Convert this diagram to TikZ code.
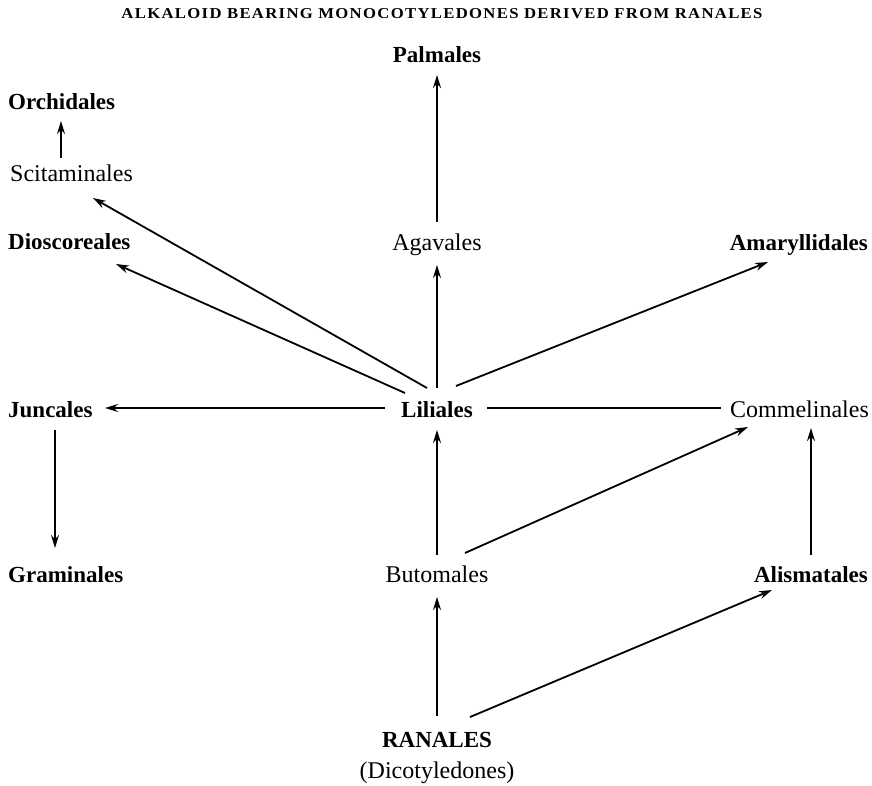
\documentclass[tikz,border=0pt]{standalone}
\usepackage{fontspec}
\setmainfont{Liberation Serif}
\newfontfamily\titlefont[LetterSpace=8]{Liberation Serif}
\usetikzlibrary{arrows.meta}
\begin{document}
\begin{tikzpicture}[x=1pt,y=-1pt,
  lab/.style={inner sep=0pt,text height=15pt,text depth=0pt,font=\fontsize{24}{27}\selectfont},
  blab/.style={inner sep=0pt,text height=15pt,text depth=0pt,font=\fontsize{23}{27}\selectfont\bfseries},
  arr/.style={line width=1.8pt,-{Stealth[length=13pt,width=8pt]}},
  plain/.style={line width=1.8pt}]
\useasboundingbox (0,0) rectangle (872,786);
\node[inner sep=0pt] (title) at (442,14) {\resizebox{641pt}{10pt}{\titlefont\bfseries ALKALOID BEARING MONOCOTYLEDONES DERIVED FROM RANALES}};
\node[blab] (pal) at (437,55) {Palmales};
\node[blab,anchor=west] (orc) at (8,102) {Orchidales};
\node[lab,anchor=west] (sci) at (10,174) {Scitaminales};
\node[blab,anchor=west] (dio) at (8,242) {Dioscoreales};
\node[lab] (aga) at (437,243) {Agavales};
\node[blab,anchor=east] (ama) at (868,243) {Amaryllidales};
\node[blab,anchor=west] (jun) at (8,410) {Juncales};
\node[blab] (lil) at (437,410) {Liliales};
\node[lab,anchor=east] (com) at (869,410) {Commelinales};
\node[blab,anchor=west] (gra) at (8,575) {Graminales};
\node[lab] (but) at (437,575) {Butomales};
\node[blab,anchor=east] (ali) at (868,575) {Alismatales};
\node[blab] (ran) at (437,740) {RANALES};
\node[lab] (dic) at (437,771) {(Dicotyledones)};
% connectors
\draw[arr] ([shift={(0,-21)}]aga.center) -- ([shift={(0,20)}]pal.center);
\draw[arr] ([shift={(51,-16)}]sci.west) -- ([shift={(53,19)}]orc.west);
\draw[arr] ([shift={(0,-22)}]lil.center) -- ([shift={(0,22)}]aga.center);
\draw[arr] ([shift={(-10,-22)}]lil.center) -- ([shift={(83,24)}]sci.west);
\draw[arr] ([shift={(-32,-17)}]lil.center) -- ([shift={(108,22)}]dio.west);
\draw[arr] ([shift={(19,-24)}]lil.center) -- ([shift={(-100,19)}]ama.east);
\draw[arr] ([shift={(-52,-2)}]lil.center) -- ([shift={(97,-2)}]jun.west);
\draw[plain] ([shift={(50,-2)}]lil.center) -- ([shift={(-9,-2)}]com.west);
\draw[arr] ([shift={(47,20)}]jun.west) -- ([shift={(47,-27)}]gra.west);
\draw[arr] ([shift={(0,-20)}]but.center) -- ([shift={(0,20)}]lil.center);
\draw[arr] ([shift={(28,-22)}]but.center) -- ([shift={(-121,17)}]com.east);
\draw[arr] ([shift={(-57,-20)}]ali.east) -- ([shift={(-58,18)}]com.east);
\draw[arr] ([shift={(0,-24)}]ran.center) -- ([shift={(0,22)}]but.center);
\draw[arr] ([shift={(33,-23)}]ran.center) -- ([shift={(-96,15)}]ali.east);
\end{tikzpicture}
\end{document}
